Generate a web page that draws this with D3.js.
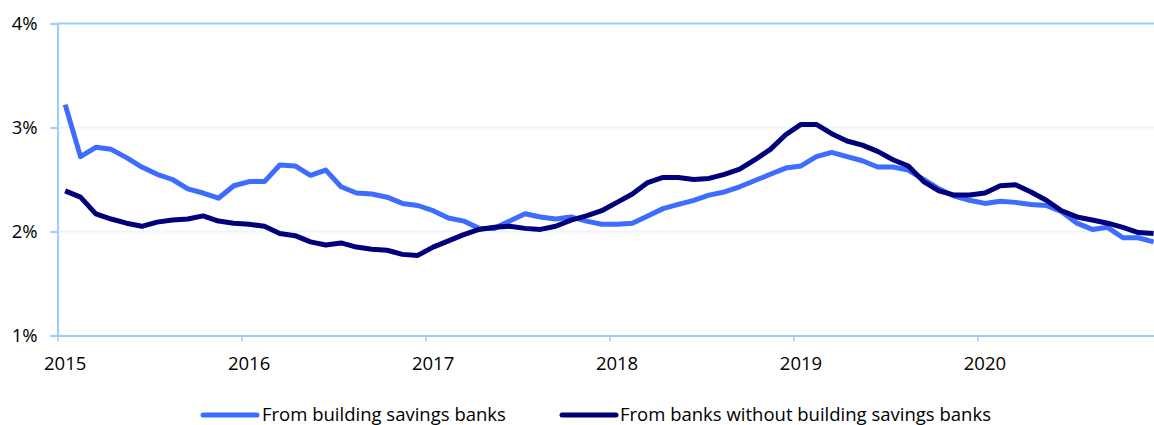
<!DOCTYPE html>
<html>
<head>
<meta charset="utf-8">
<script src="https://cdn.jsdelivr.net/npm/d3@7"></script>
<style>
  html, body { margin: 0; padding: 0; background: #fff; overflow: hidden; }
  svg { display: block; font-family: "Open Sans", Lato, sans-serif; }
</style>
</head>
<body>
<svg id="chart" width="1154" height="425"></svg>
<script>
const years = ["2015", "2016", "2017", "2018", "2019", "2020"];
const yTicks = [1, 2, 3, 4];
const seriesNames = ["From building savings banks", "From banks without building savings banks"];
const buildingSavings = [
  3.22, 2.72, 2.81, 2.79, 2.71, 2.62, 2.55, 2.50, 2.41, 2.37, 2.32, 2.44,
  2.48, 2.48, 2.64, 2.63, 2.54, 2.59, 2.43, 2.37, 2.36, 2.33, 2.27, 2.25,
  2.20, 2.13, 2.10, 2.03, 2.03, 2.10, 2.17, 2.14, 2.12, 2.14, 2.10, 2.07,
  2.07, 2.08, 2.15, 2.22, 2.26, 2.30, 2.35, 2.38, 2.43, 2.49, 2.55, 2.61,
  2.63, 2.72, 2.76, 2.72, 2.68, 2.62, 2.62, 2.59, 2.50, 2.41, 2.34, 2.30,
  2.27, 2.29, 2.28, 2.26, 2.25, 2.19, 2.08, 2.02, 2.04, 1.94, 1.94, 1.90
];
const banksWithout = [
  2.39, 2.33, 2.17, 2.12, 2.08, 2.05, 2.09, 2.11, 2.12, 2.15, 2.10, 2.08,
  2.07, 2.05, 1.98, 1.96, 1.90, 1.87, 1.89, 1.85, 1.83, 1.82, 1.78, 1.77,
  1.85, 1.91, 1.97, 2.02, 2.04, 2.05, 2.03, 2.02, 2.05, 2.11, 2.15, 2.20,
  2.28, 2.36, 2.47, 2.52, 2.52, 2.50, 2.51, 2.55, 2.60, 2.69, 2.79, 2.93,
  3.03, 3.03, 2.94, 2.87, 2.83, 2.77, 2.69, 2.63, 2.48, 2.39, 2.35, 2.35,
  2.37, 2.44, 2.45, 2.38, 2.30, 2.20, 2.14, 2.11, 2.08, 2.04, 1.99, 1.98
];
const colors = ["#3d6dff", "#00007a"];
const fontCss = "'Open Sans', Lato, sans-serif";
const fontSize = "18.5px";

const svg = d3.select("#chart");
const mLeft = 57.5, mTop = 23.5, mBottom = 335.5;
const nMonths = buildingSavings.length;
const monthW = 15.33;

const x = d3.scaleLinear().domain([0, nMonths]).range([mLeft, mLeft + nMonths * monthW]);
const y = d3.scaleLinear().domain([1, 4]).range([mBottom, mTop]);

// horizontal gridlines
svg.append("g").selectAll("line")
  .data(yTicks.filter(d => d > 1))
  .join("line")
  .attr("x1", mLeft).attr("x2", 1154)
  .attr("y1", d => y(d)).attr("y2", d => y(d))
  .attr("stroke", d => d === 4 ? "#99ccff" : "#eef5ff")
  .attr("stroke-width", 2);

// y axis
const yAxis = d3.axisLeft(y).tickValues(yTicks).tickSize(7).tickPadding(13)
  .tickFormat(d => d + "%");
const gy = svg.append("g").attr("transform", `translate(${mLeft},0)`).call(yAxis);
gy.select(".domain").attr("stroke", "#99ccff").attr("stroke-width", 2);
gy.selectAll(".tick line").attr("stroke", "#99ccff").attr("stroke-width", 2);
gy.selectAll(".tick text").attr("fill", "#000").style("font-size", fontSize)
  .style("font-family", fontCss);

// x axis
const xAxis = d3.axisBottom(x).tickValues(years.map((d, i) => i * 12)).tickSize(6).tickSizeOuter(0)
  .tickFormat(() => "");
const gx = svg.append("g").attr("transform", `translate(0,${mBottom})`).call(xAxis);
gx.select(".domain").attr("stroke", "#99ccff").attr("stroke-width", 2);
gx.selectAll(".tick line").attr("stroke", "#99ccff").attr("stroke-width", 1.5);

svg.append("g").selectAll("text")
  .data(years)
  .join("text")
  .attr("x", (d, i) => x(i * 12 + 0.5))
  .attr("y", 370)
  .attr("text-anchor", "middle")
  .style("font-size", fontSize)
  .style("font-family", fontCss)
  .attr("fill", "#000")
  .text(d => d);

// lines
const line = d3.line().x((d, i) => x(i + 0.5)).y(d => y(d));
[buildingSavings, banksWithout].forEach((s, k) => {
  svg.append("path")
    .datum(s)
    .attr("d", line)
    .attr("fill", "none")
    .attr("stroke", colors[k])
    .attr("stroke-width", 5)
    .attr("stroke-linejoin", "round");
});

// legend
const legendPos = [{lx: 203, tx: 262}, {lx: 562, tx: 620}];
const lg = svg.append("g");
seriesNames.forEach((name, k) => {
  lg.append("line")
    .attr("x1", legendPos[k].lx).attr("x2", legendPos[k].lx + 54)
    .attr("y1", 415).attr("y2", 415)
    .attr("stroke", colors[k]).attr("stroke-width", 5).attr("stroke-linecap", "round");
  lg.append("text")
    .attr("x", legendPos[k].tx).attr("y", 421)
    .style("font-size", fontSize)
    .style("font-family", fontCss)
    .attr("fill", "#000")
    .text(name);
});
</script>
</body>
</html>
